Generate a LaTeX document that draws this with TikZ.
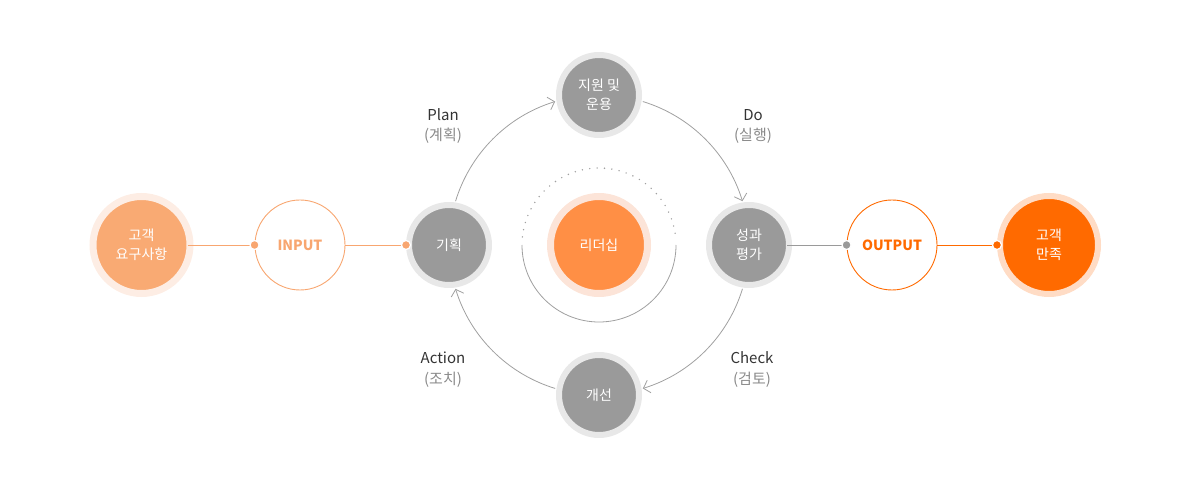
\documentclass[tikz,border=0pt]{standalone}
\usepackage{fontspec}
\setmainfont{Noto Sans CJK KR}
\usetikzlibrary{arrows.meta}
\definecolor{nodegray}{HTML}{9A9A9A}
\definecolor{halogray}{HTML}{E8E8E8}
\definecolor{arcgray}{HTML}{A0A0A0}
\definecolor{leadfill}{HTML}{FF8F45}
\definecolor{leadhalo}{HTML}{FCE4D8}
\definecolor{custfill}{HTML}{F9AA73}
\definecolor{custhalo}{HTML}{FDEDE4}
\definecolor{inorange}{HTML}{F8A670}
\definecolor{outorange}{HTML}{FF6A00}
\definecolor{satfill}{HTML}{FF6A00}
\definecolor{sathalo}{HTML}{FFDCC5}
\definecolor{labdark}{HTML}{333333}
\definecolor{labgray}{HTML}{8A8A8A}
\tikzset{
  cyclenode/.style={circle, fill=nodegray, draw=halogray, line width=6pt, minimum size=80pt, inner sep=0pt,
    text=white, align=center, font=\fontsize{14}{19}\selectfont},
  bignode/.style={circle, line width=7pt, minimum size=97pt, inner sep=0pt,
    text=white, align=center, font=\fontsize{14}{19}\selectfont},
  ionode/.style={circle, fill=white, line width=0.9pt, minimum size=90pt, inner sep=0pt,
    font=\bfseries\fontsize{14}{17}\selectfont},
  cyc/.style={arcgray, line width=0.8pt, -{Straight Barb[length=6pt,width=13pt,line width=0.8pt]}},
  lab/.style={text=labdark, font=\fontsize{15}{18}\selectfont},
  sublab/.style={text=labgray, font=\fontsize{15}{18}\selectfont},
  dot/.style={circle, inner sep=0pt, minimum size=9pt, draw=white, line width=1.2pt},
}
\begin{document}
\begin{tikzpicture}[x=1pt,y=1pt]
\useasboundingbox (0,0) rectangle (1198,490);
\coordinate (C) at (599,245);

% inner leadership ring
\draw[arcgray, line width=0.8pt] ([shift={(180:77)}]C) arc[start angle=180, end angle=360, radius=77];
\draw[arcgray, line width=1.6pt, line cap=round, dash pattern=on 0pt off 7.4pt]
  ([shift={(174:77)}]C) arc[start angle=174, end angle=6, radius=77];

% nodes
\node[bignode, fill=custfill, draw=custhalo] (cust) at (141.5,245) {고객\\요구사항};
\node[ionode, draw=inorange, text=inorange] (in) at (300,245) {INPUT};
\node[cyclenode] (plan) at (449,245) {기획};
\node[cyclenode] (sup) at (599,395) {지원 및\\운용};
\node[cyclenode] (eval) at (749,245) {성과\\평가};
\node[cyclenode] (imp) at (599,95) {개선};
\node[bignode, fill=leadfill, draw=leadhalo] (lead) at (C) {리더십};
\node[ionode, draw=outorange, text=outorange] (out) at (892,245) {OUTPUT};
\node[bignode, fill=satfill, draw=sathalo, line width=6pt, minimum size=98pt] (sat) at (1049,245) {고객\\만족};

% cycle arcs
\draw[cyc] ([shift={(163:150)}]C) arc[start angle=163, end angle=107, radius=150];
\draw[cyc] ([shift={(73:150)}]C) arc[start angle=73, end angle=17, radius=150];
\draw[cyc] ([shift={(-17:150)}]C) arc[start angle=-17, end angle=-73, radius=150];
\draw[cyc] ([shift={(-107:150)}]C) arc[start angle=-107, end angle=-163, radius=150];

% input / output lines
\draw[inorange, line width=0.9pt] ([xshift=-6pt]cust.east) -- (in.west);
\draw[inorange, line width=0.9pt] (in.east) -- (plan.west);
\draw[nodegray, line width=0.9pt] ([xshift=-5pt]eval.east) -- (out.west);
\draw[outorange, line width=0.9pt] (out.east) -- (sat.west);
\node[dot, fill=inorange] (d1) at (in.west) {};
\node[dot, fill=inorange] (d2) at (plan.west) {};
\node[dot, fill=nodegray] (d3) at (out.west) {};
\node[dot, fill=outorange] (d4) at (sat.west) {};

% labels
\node[lab] (lplan) at (443,375) {Plan};
\node[sublab] (splan) at (443,354) {(계획)};
\node[lab] (ldo) at (753,375) {Do};
\node[sublab] (sdo) at (753,354) {(실행)};
\node[lab] (lact) at (443,132) {Action};
\node[sublab] (sact) at (443,110) {(조치)};
\node[lab] (lchk) at (752,132) {Check};
\node[sublab] (schk) at (752,110) {(검토)};
\end{tikzpicture}
\end{document}
